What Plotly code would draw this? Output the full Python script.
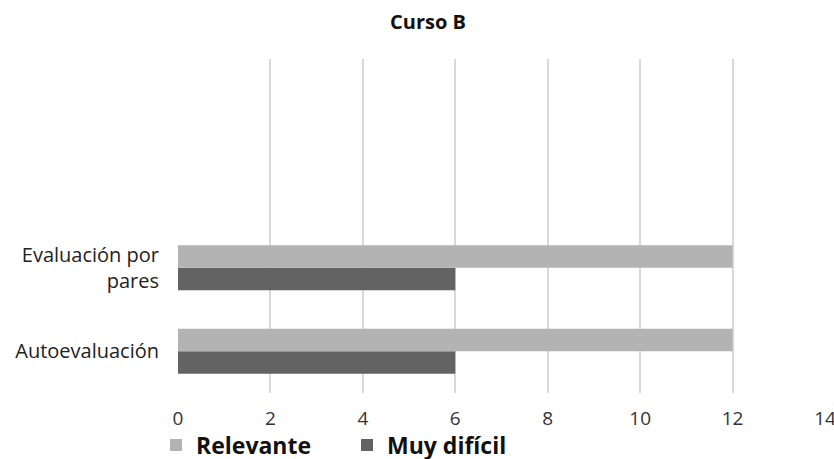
import plotly.graph_objects as go

categories = ["Autoevaluación", "Evaluación por<br>pares"]
empty_slots = [" ", "  "]
relevante = [12, 12]
muy_dificil = [6, 6]
x_ticks = [0, 2, 4, 6, 8, 10, 12, 14]

W, H = 834, 459

fig = go.Figure()
fig.add_trace(go.Bar(y=categories, x=muy_dificil, name="<b>Muy difícil</b>", orientation="h",
                     marker=dict(color="#636363", line=dict(width=0))))
fig.add_trace(go.Bar(y=categories, x=relevante, name="<b>Relevante</b>", orientation="h",
                     marker=dict(color="#b3b3b3", line=dict(width=0))))

fig.update_layout(
    width=W, height=H,
    margin=dict(l=178, r=9, t=59, b=66, pad=0, autoexpand=False),
    paper_bgcolor="white", plot_bgcolor="white",
    font=dict(family="Open Sans", color="#222222"),
    barmode="group", bargap=0.46, bargroupgap=0,
    title=dict(text="<b>Curso B</b>", x=428 / W, xref="container", xanchor="center",
               y=1 - 21.5 / H, yref="container", yanchor="middle",
               font=dict(size=20, color="#111111", family="Open Sans")),
    xaxis=dict(range=[0, 14], tickvals=x_ticks, showgrid=True, gridcolor="#d9d9d9",
               gridwidth=1.5, zeroline=False, showline=False, ticks="",
               ticklabelstandoff=12, automargin=False, ticklabeloverflow="allow",
               tickfont=dict(size=19, color="#333333")),
    yaxis=dict(categoryorder="array", categoryarray=categories + empty_slots,
               range=[-0.5, 3.5], showgrid=False, zeroline=False, showline=False,
               ticks="", ticklabelstandoff=18, tickfont=dict(size=20, color="#222222"),
               automargin=False),
    legend=dict(orientation="h", x=156 / W, xref="container", xanchor="left",
                y=1 - 445 / H, yref="container", yanchor="middle",
                bgcolor="rgba(0,0,0,0)",
                traceorder="reversed", font=dict(size=23, color="#111111", family="Open Sans"),
                itemwidth=30, entrywidth=146, entrywidthmode="pixels"),
)

fig.write_html("out.html", config={"displayModeBar": False},
               post_script="document.body.style.margin='0';document.body.style.overflow='hidden';")
